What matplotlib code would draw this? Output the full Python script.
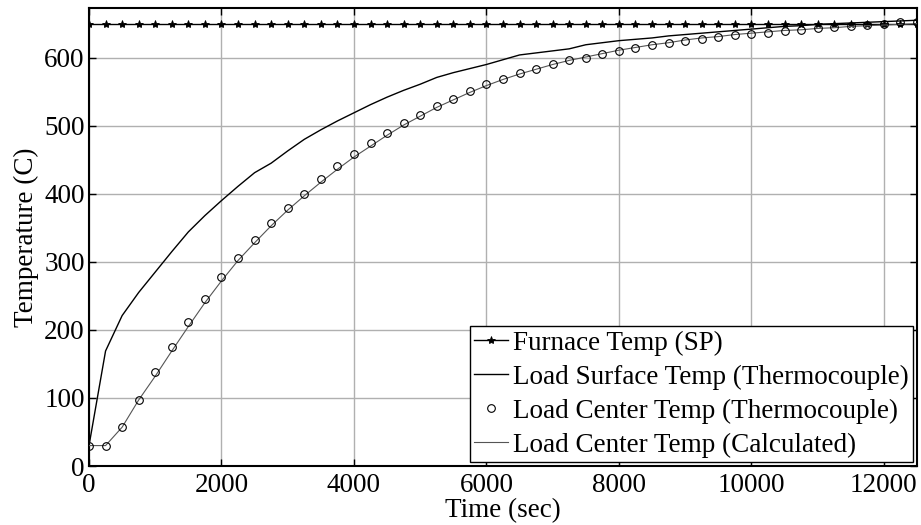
import matplotlib
matplotlib.use("Agg")
import matplotlib.pyplot as plt
import numpy as np

time_s = list(range(0, 12501, 250))

furnace_temp = [649] * len(time_s)

surface_temp = [30, 169, 221, 255, 285, 315, 344, 368, 390, 411, 431, 445, 463,
                480, 494, 507, 519, 531, 542, 552, 561, 571, 578, 584, 590, 597,
                604, 607, 610, 613, 619, 622, 625, 627, 629, 632, 634, 636, 638,
                640, 642, 644, 646, 647, 649, 650, 651, 652, 653, 654, 655]

center_tc = [30, 30, 57, 97, 138, 175, 212, 246, 277, 306, 332, 357, 379, 400,
             421, 441, 458, 475, 490, 504, 516, 529, 540, 551, 561, 568, 577,
             583, 590, 597, 600, 605, 610, 614, 618, 621, 624, 627, 630, 633,
             635, 636, 639, 641, 643, 645, 647, 648, 650, 652, 652]

center_calc = [30, 30, 57, 97, 132, 169, 205, 240, 272, 302, 328, 353, 376, 397,
               417, 436, 454, 470, 486, 501, 514, 527, 538, 549, 559, 568, 576,
               583, 590, 596, 601, 606, 611, 615, 619, 622, 626, 629, 631, 634,
               636, 638, 640, 641, 643, 644, 646, 647, 648, 649, 650]

x_ticks = [0, 2000, 4000, 6000, 8000, 10000, 12000]
y_ticks = [0, 100, 200, 300, 400, 500, 600]

plt.rcParams['font.family'] = ['Liberation Serif', 'DejaVu Serif']
FS = 19.5
plt.rcParams['font.size'] = FS

fig = plt.figure(figsize=(9.21, 5.25), dpi=100)
ax = fig.add_axes([89 / 921, 59 / 525, (917 - 89) / 921, (466 - 8) / 525])

ax.plot(time_s, furnace_temp, color='black', lw=1.0, marker='*', markersize=6,
        markeredgewidth=0.6, label='Furnace Temp (SP)', zorder=3)
ax.plot(time_s, surface_temp, color='black', lw=1.0,
        label='Load Surface Temp (Thermocouple)', zorder=3)
ax.plot(time_s, center_tc, linestyle='none', marker='o', markersize=5.5,
        markerfacecolor='none', markeredgecolor='black', markeredgewidth=0.8,
        label='Load Center Temp (Thermocouple)', zorder=4)
ax.plot(time_s, center_calc, color='#555555', lw=0.8,
        label='Load Center Temp (Calculated)', zorder=3)

ax.set_xlim(0, 12500)
ax.set_ylim(0, 673)
ax.set_xticks(x_ticks)
ax.set_yticks(y_ticks)
ax.grid(True, color='#b0b0b0', lw=1.0)
ax.set_axisbelow(True)
ax.tick_params(direction='in', top=True, right=True, length=5, width=1,
               labelsize=FS, pad=3)
ax.tick_params(axis='x', pad=5)
for sp in ax.spines.values():
    sp.set_linewidth(1.5)

ax.set_xlabel('Time (sec)', fontsize=FS, labelpad=0)
ax.set_ylabel('Temperature (C)', fontsize=FS, labelpad=4)

leg = ax.legend(loc='lower right', fontsize=FS, frameon=True, fancybox=False,
                edgecolor='black', framealpha=1, borderpad=0.15,
                labelspacing=0.33, handlelength=1.25, handletextpad=0.2,
                borderaxespad=0.15)
leg.get_frame().set_linewidth(1.0)

fig.savefig('out.png', dpi=100)
